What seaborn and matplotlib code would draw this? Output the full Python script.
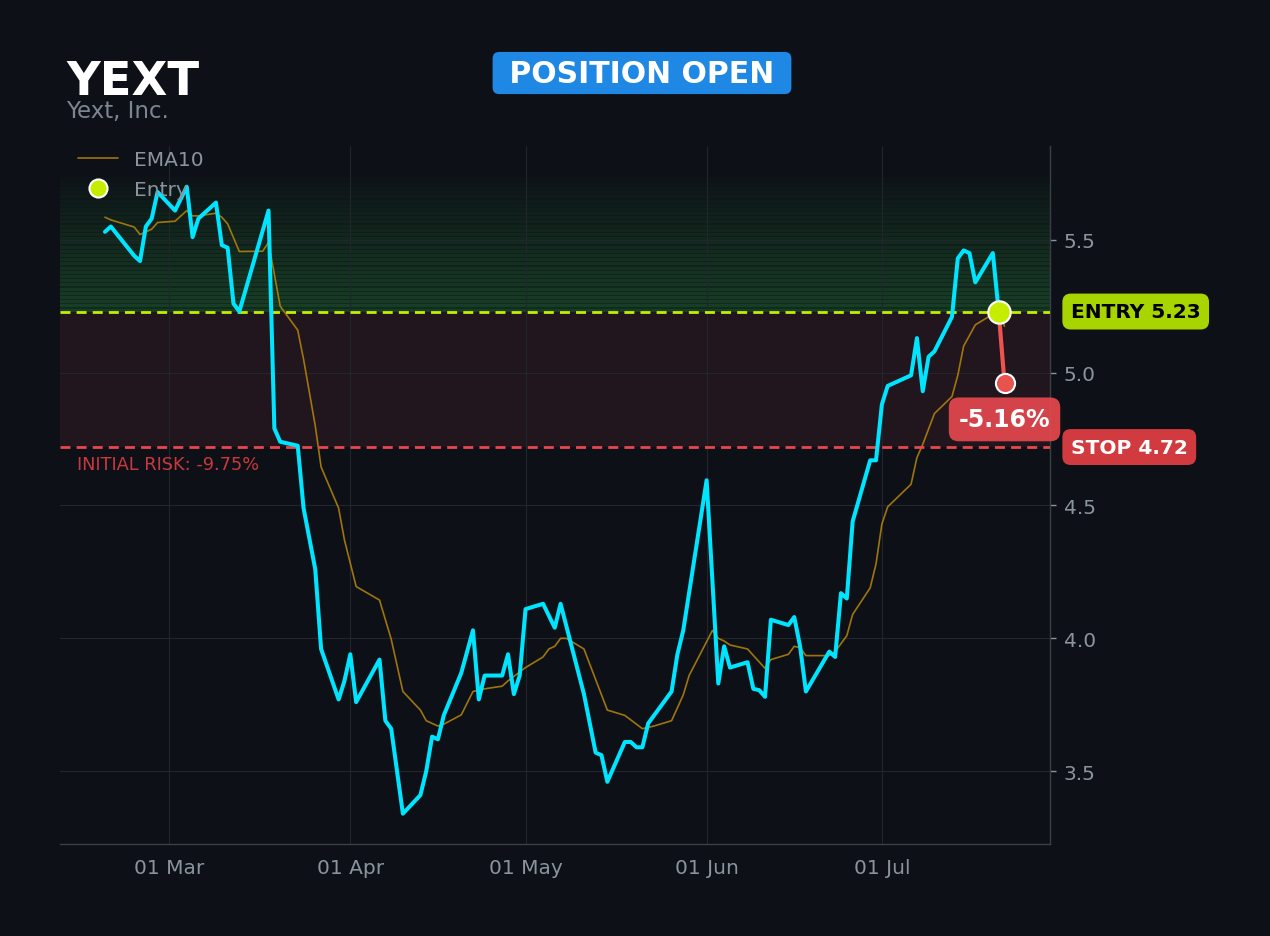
import pandas as pd
import matplotlib
matplotlib.use("Agg")
import matplotlib.pyplot as plt
import matplotlib.dates as mdates
from matplotlib.lines import Line2D
import seaborn as sns

# price path (closing vertices)
price_dates = ["2025-02-18", "2025-02-19", "2025-02-23", "2025-02-24", "2025-02-25", "2025-02-26",
               "2025-02-27", "2025-03-02", "2025-03-04", "2025-03-05", "2025-03-06", "2025-03-09",
               "2025-03-10", "2025-03-11", "2025-03-12", "2025-03-13", "2025-03-18", "2025-03-19",
               "2025-03-20", "2025-03-23", "2025-03-24", "2025-03-26", "2025-03-27", "2025-03-30",
               "2025-03-31", "2025-04-01", "2025-04-02", "2025-04-06", "2025-04-07", "2025-04-08",
               "2025-04-10", "2025-04-13", "2025-04-14", "2025-04-15", "2025-04-16", "2025-04-17",
               "2025-04-20", "2025-04-22", "2025-04-23", "2025-04-24", "2025-04-27", "2025-04-28",
               "2025-04-29", "2025-04-30", "2025-05-01", "2025-05-04", "2025-05-06", "2025-05-07",
               "2025-05-11", "2025-05-13", "2025-05-14", "2025-05-15", "2025-05-18", "2025-05-19",
               "2025-05-20", "2025-05-21", "2025-05-22", "2025-05-26", "2025-05-27", "2025-05-28",
               "2025-06-01", "2025-06-03", "2025-06-04", "2025-06-05", "2025-06-08", "2025-06-09",
               "2025-06-10", "2025-06-11", "2025-06-12", "2025-06-15", "2025-06-16", "2025-06-17",
               "2025-06-18", "2025-06-22", "2025-06-23", "2025-06-24", "2025-06-25", "2025-06-26",
               "2025-06-29", "2025-06-30", "2025-07-01", "2025-07-02", "2025-07-06", "2025-07-07",
               "2025-07-08", "2025-07-09", "2025-07-10", "2025-07-13", "2025-07-14", "2025-07-15",
               "2025-07-16", "2025-07-17", "2025-07-20", "2025-07-21"]
price_vals = [5.53, 5.55, 5.44, 5.42, 5.55, 5.58,
              5.68, 5.61, 5.70, 5.51, 5.58, 5.64,
              5.48, 5.47, 5.26, 5.23, 5.61, 4.79,
              4.74, 4.725, 4.49, 4.26, 3.96, 3.77,
              3.84, 3.94, 3.76, 3.92, 3.69, 3.66,
              3.34, 3.41, 3.50, 3.63, 3.62, 3.71,
              3.87, 4.03, 3.77, 3.86, 3.86, 3.94,
              3.79, 3.86, 4.11, 4.13, 4.04, 4.13,
              3.79, 3.57, 3.56, 3.46, 3.61, 3.61,
              3.59, 3.59, 3.68, 3.80, 3.94, 4.03,
              4.595, 3.83, 3.97, 3.89, 3.91, 3.81,
              3.805, 3.78, 4.07, 4.05, 4.08, 3.97,
              3.80, 3.95, 3.93, 4.17, 4.15, 4.44,
              4.67, 4.67, 4.88, 4.95, 4.99, 5.13,
              4.93, 5.06, 5.08, 5.21, 5.43, 5.46,
              5.45, 5.34, 5.45, 5.23]

ema_dates = ["2025-02-18", "2025-02-19", "2025-02-23", "2025-02-24", "2025-02-25", "2025-02-26",
             "2025-02-27", "2025-03-02", "2025-03-04", "2025-03-05", "2025-03-06", "2025-03-09",
             "2025-03-10", "2025-03-11", "2025-03-13", "2025-03-17", "2025-03-18", "2025-03-20",
             "2025-03-23", "2025-03-24", "2025-03-26", "2025-03-27", "2025-03-30", "2025-03-31",
             "2025-04-02", "2025-04-06", "2025-04-08", "2025-04-10", "2025-04-13", "2025-04-14",
             "2025-04-16", "2025-04-17", "2025-04-20", "2025-04-22", "2025-04-23", "2025-04-24",
             "2025-04-27", "2025-04-28", "2025-05-01", "2025-05-04", "2025-05-05", "2025-05-06",
             "2025-05-07", "2025-05-08", "2025-05-11", "2025-05-15", "2025-05-18", "2025-05-21",
             "2025-05-23", "2025-05-26", "2025-05-28", "2025-05-29", "2025-06-02", "2025-06-03",
             "2025-06-04", "2025-06-05", "2025-06-08", "2025-06-11", "2025-06-12", "2025-06-15",
             "2025-06-16", "2025-06-17", "2025-06-18", "2025-06-22", "2025-06-23", "2025-06-25",
             "2025-06-26", "2025-06-29", "2025-06-30", "2025-07-01", "2025-07-02", "2025-07-06",
             "2025-07-07", "2025-07-08", "2025-07-10", "2025-07-13", "2025-07-14", "2025-07-15",
             "2025-07-17", "2025-07-20", "2025-07-21", "2025-07-22"]
ema_vals = [5.585, 5.575, 5.548, 5.52, 5.53, 5.54,
            5.565, 5.57, 5.61, 5.59, 5.59, 5.60,
            5.585, 5.56, 5.456, 5.457, 5.49, 5.25,
            5.16, 5.05, 4.80, 4.645, 4.49, 4.37,
            4.195, 4.144, 3.997, 3.80, 3.73, 3.69,
            3.67, 3.677, 3.712, 3.80, 3.805, 3.81,
            3.82, 3.84, 3.89, 3.93, 3.96, 3.97,
            4.00, 4.00, 3.96, 3.73, 3.71, 3.66,
            3.67, 3.69, 3.787, 3.86, 4.03, 4.00,
            3.99, 3.975, 3.96, 3.887, 3.92, 3.94,
            3.97, 3.965, 3.935, 3.935, 3.95, 4.01,
            4.09, 4.19, 4.28, 4.43, 4.495, 4.58,
            4.68, 4.73, 4.846, 4.91, 4.99, 5.10,
            5.18, 5.22, 5.225, 5.175]

ticker = "YEXT"
company = "Yext, Inc."
entry_date = "2025-07-21"
entry_price = 5.23
exit_date = "2025-07-22"
exit_price = 4.96
stop_price = 4.72
pnl_text = "-5.16%"
risk_text = "INITIAL RISK: -9.75%"

BG = "#0d1117"
GRID = "#21262d"
TXT = "#8b949e"
CYAN = "#00e5ff"
LIME = "#c6ec00"
RED = "#e5484d"

price = pd.DataFrame({"date": pd.to_datetime(price_dates), "close": price_vals})
ema = pd.DataFrame({"date": pd.to_datetime(ema_dates), "ema": ema_vals})

sns.set_style("dark")
plt.rcParams["font.family"] = ["DejaVu Sans"]

fig = plt.figure(figsize=(12.7, 9.37), dpi=100, facecolor=BG)
ax = fig.add_axes([0.0472, 0.0982, 0.7796, 0.7449], facecolor=BG)

ymin, ymax = 3.226, 5.853
ax.set_ylim(ymin, ymax)
ax.set_xlim(pd.Timestamp("2025-02-10 07:00"), pd.Timestamp("2025-07-29 19:00"))

# profit zone: faded green stripes above entry
n_bands = 32
band_top = 5.735
step = (band_top - entry_price) / n_bands
for i in range(n_bands):
    lo = entry_price + i * step
    a = 0.30 * (1 - i / n_bands) + 0.02
    ax.axhspan(lo, lo + step * 0.72, color="#2ea043", alpha=a, lw=0, zorder=0)
    ax.axhspan(lo + step * 0.72, lo + step, color="#2ea043", alpha=a * 0.55, lw=0, zorder=0)
# risk zone
ax.axhspan(stop_price, entry_price, color="#21161d", lw=0, zorder=0)

ax.grid(True, color=GRID, lw=0.8, zorder=0.5)
ax.set_axisbelow(True)

sns.lineplot(data=ema, x="date", y="ema", ax=ax, color="#b8860b", alpha=0.85, lw=1.2,
             estimator=None, sort=False, zorder=3)
sns.lineplot(data=price, x="date", y="close", ax=ax, color=CYAN, lw=2.9,
             estimator=None, sort=False, zorder=4)

ax.axhline(entry_price, color=LIME, lw=2, ls=(0, (3.6, 2.2)), zorder=3)
ax.axhline(stop_price, color=RED, lw=2, ls=(0, (3.6, 2.2)), zorder=3)

ed, xd = pd.Timestamp(entry_date), pd.Timestamp(exit_date)
ax.plot([ed, xd], [entry_price, exit_price], color="#f0524f", lw=3, zorder=5)
ax.scatter([xd], [exit_price], s=190, color="#e8524f", edgecolor="white", lw=1.5, zorder=6)
ax.scatter([ed], [entry_price], s=260, color=LIME, edgecolor="white", lw=1.5, zorder=7)

ax.annotate(pnl_text, xy=(xd, exit_price), xytext=(0, -26), textcoords="offset points",
            ha="center", va="center", color="white", fontsize=17, fontweight="bold", zorder=8,
            bbox=dict(boxstyle="round,pad=0.42", fc="#e5484d", ec="none", alpha=0.92))

ax.annotate(f"ENTRY {entry_price:.2f}", xy=(1.021, entry_price), xycoords=("axes fraction", "data"),
            ha="left", va="center", color="black", fontsize=14.5, fontweight="bold",
            bbox=dict(boxstyle="round,pad=0.42", fc="#a8d400", ec="none"), annotation_clip=False)
ax.annotate(f"STOP {stop_price:.2f}", xy=(1.021, stop_price), xycoords=("axes fraction", "data"),
            ha="left", va="center", color="white", fontsize=14.5, fontweight="bold",
            bbox=dict(boxstyle="round,pad=0.42", fc="#d13b40", ec="none"), annotation_clip=False)

ax.annotate(risk_text, xy=(0.017, stop_price), xycoords=("axes fraction", "data"),
            xytext=(0, -12.5), textcoords="offset points", ha="left", va="center",
            color="#c9383c", fontsize=12.8)

ax.yaxis.tick_right()
ax.set_yticks([3.5, 4.0, 4.5, 5.0, 5.5])
ax.yaxis.set_major_formatter(plt.FuncFormatter(lambda v, _: f"{v:.1f}"))
ax.xaxis.set_major_locator(mdates.MonthLocator(bymonthday=1))
ax.xaxis.set_major_formatter(mdates.DateFormatter("%d %b"))
ax.tick_params(axis="both", colors=TXT, labelsize=14.5, length=4, width=1, pad=6)
ax.tick_params(axis="x", length=0, pad=10)
ax.set_xlabel("")
ax.set_ylabel("")
for side in ["left", "top"]:
    ax.spines[side].set_visible(False)
for side in ["right", "bottom"]:
    ax.spines[side].set_visible(True)
    ax.spines[side].set_color("#3a3f46")
    ax.spines[side].set_linewidth(1)

handles = [Line2D([0], [0], color="#b8860b", alpha=0.85, lw=1.2, label="EMA10"),
           Line2D([0], [0], marker="o", ls="none", markersize=13, markerfacecolor=LIME,
                  markeredgecolor="white", markeredgewidth=1.5, label="Entry")]
leg = ax.legend(handles=handles, loc="upper left", bbox_to_anchor=(0.0, 1.02), frameon=False,
                fontsize=14.5, borderaxespad=0.5, handlelength=2.0, handletextpad=0.8,
                labelspacing=0.55)
for t in leg.get_texts():
    t.set_color(TXT)

fig.text(0.052, 0.8985, ticker, color="white", fontsize=33.5, fontweight="bold", ha="left", va="baseline")
fig.text(0.052, 0.874, company, color="#7d8590", fontsize=16.5, ha="left", va="baseline")
fig.text(0.5055, 0.921, " POSITION OPEN ", color="white", fontsize=21.5, fontweight="bold",
         ha="center", va="center",
         bbox=dict(boxstyle="round,pad=0.22", fc="#1f88e5", ec="none"))

fig.savefig("out.png", dpi=100, facecolor=BG)
